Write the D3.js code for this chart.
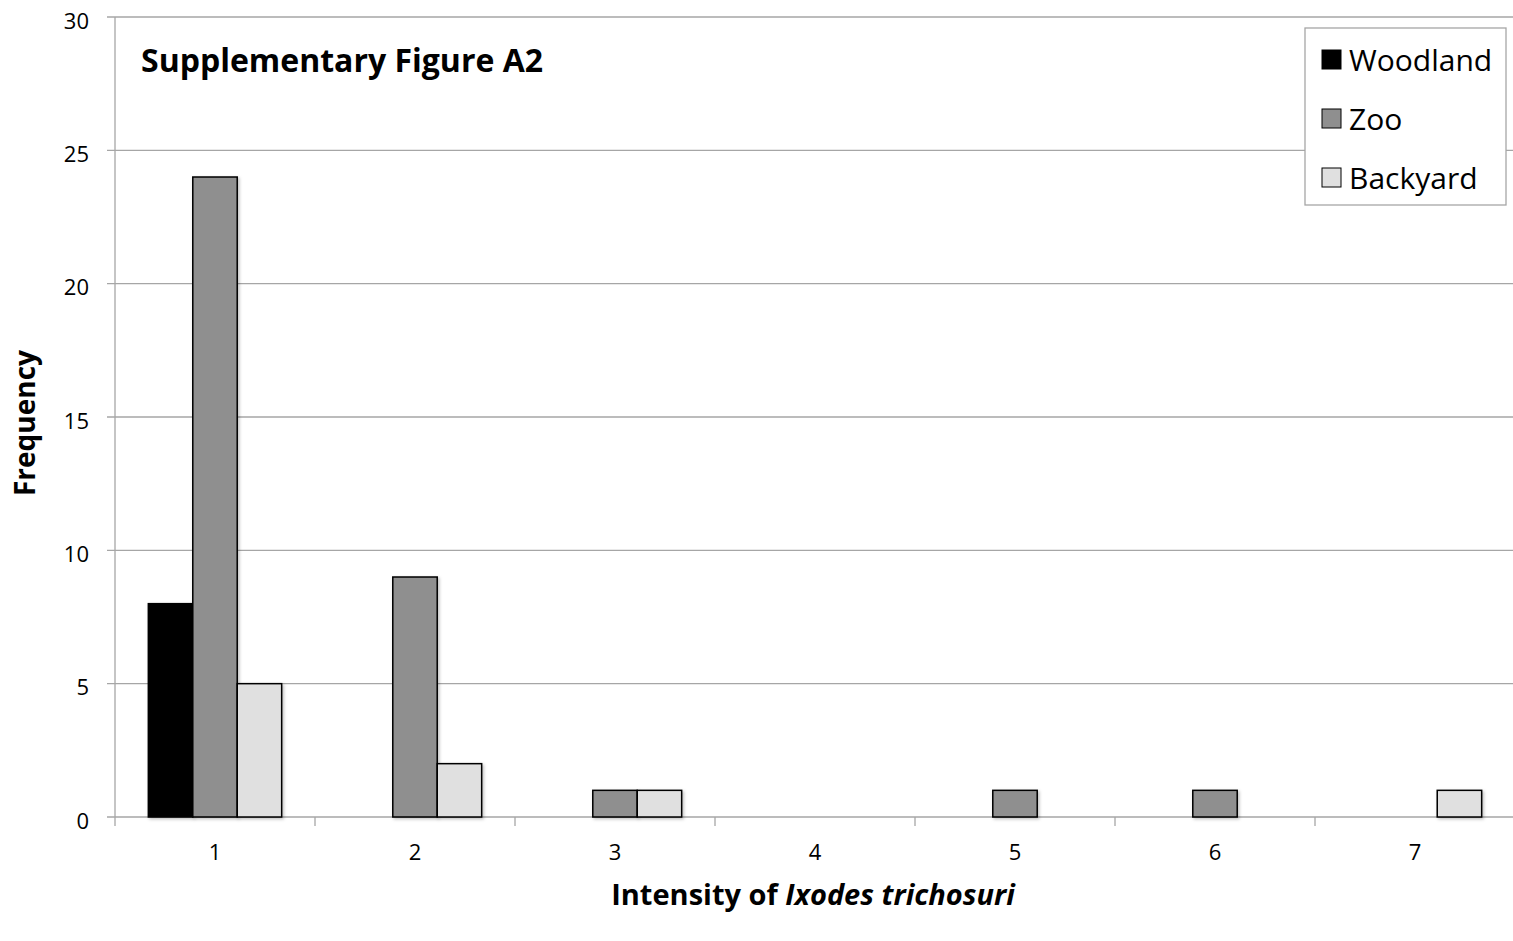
<!DOCTYPE html>
<html>
<head>
<meta charset="utf-8">
<script src="https://cdn.jsdelivr.net/npm/d3@7"></script>
<style>
  body { margin: 0; background: #fff; }
  text { font-family: "Open Sans", "Noto Sans", sans-serif; }
</style>
</head>
<body>
<svg id="chart"></svg>
<script>
const categories = ["1", "2", "3", "4", "5", "6", "7"];
const seriesNames = ["Woodland", "Zoo", "Backyard"];
const woodland = [8, 0, 0, 0, 0, 0, 0];
const zoo = [24, 9, 1, 0, 1, 1, 0];
const backyard = [5, 2, 1, 0, 0, 0, 1];
const yTicks = [0, 5, 10, 15, 20, 25, 30];

const colors = { Woodland: "#000000", Zoo: "#8f8f8f", Backyard: "#e0e0e0" };
const seriesData = { Woodland: woodland, Zoo: zoo, Backyard: backyard };

const W = 1513, H = 941;
const margin = { top: 17, right: 0, bottom: 124, left: 115 };
const width = 1400;
const height = H - margin.top - margin.bottom;

const svg = d3.select("#chart").attr("width", W).attr("height", H);

const defs = svg.append("defs");
const f = defs.append("filter").attr("id", "shadow").attr("x", "-20%").attr("y", "-20%").attr("width", "140%").attr("height", "140%");
f.append("feDropShadow").attr("dx", 1.5).attr("dy", 1.5).attr("stdDeviation", 1.5).attr("flood-color", "#000").attr("flood-opacity", 0.25);

const g = svg.append("g").attr("transform", `translate(${margin.left},${margin.top})`);

const x = d3.scaleBand().domain(categories).range([0, width]).paddingInner(0).paddingOuter(0);
// Excel-style gap width 150%: group of 3 bars centred in each band
const xSub = d3.scaleBand().domain(seriesNames).range([0, x.bandwidth()]).paddingInner(0).paddingOuter(0.75);
const y = d3.scaleLinear().domain([0, 30]).range([height, 0]);

// gridlines
g.append("g")
  .selectAll("line")
  .data(yTicks)
  .enter()
  .append("line")
  .attr("x1", -8)
  .attr("x2", W - margin.left)
  .attr("y1", d => y(d))
  .attr("y2", d => y(d))
  .attr("stroke", "#a6a6a6")
  .attr("stroke-width", 1.3);

// y axis line
g.append("line")
  .attr("x1", 0).attr("x2", 0)
  .attr("y1", 0).attr("y2", height)
  .attr("stroke", "#a6a6a6").attr("stroke-width", 1.3);

// y tick labels
g.append("g")
  .selectAll("text")
  .data(yTicks)
  .enter()
  .append("text")
  .attr("x", -26)
  .attr("y", d => y(d) + 4)
  .attr("dy", "0.35em")
  .attr("text-anchor", "end")
  .style("font-size", "22px")
  .text(d => d);

// x ticks
const xTickPos = categories.map(c => x(c)).concat([width]);
g.append("g")
  .selectAll("line")
  .data(xTickPos)
  .enter()
  .append("line")
  .attr("x1", d => d).attr("x2", d => d)
  .attr("y1", height).attr("y2", height + 9)
  .attr("stroke", "#a6a6a6").attr("stroke-width", 1.3);

g.append("g")
  .selectAll("text")
  .data(categories)
  .enter()
  .append("text")
  .attr("x", d => x(d) + x.bandwidth() / 2)
  .attr("y", 860 - margin.top)
  .attr("text-anchor", "middle")
  .style("font-size", "22px")
  .text(d => d);

// bars
seriesNames.forEach(name => {
  g.append("g")
    .selectAll("rect")
    .data(seriesData[name].map((v, i) => ({ cat: categories[i], v: v })).filter(d => d.v > 0))
    .enter()
    .append("rect")
    .attr("x", d => x(d.cat) + xSub(name))
    .attr("y", d => y(d.v))
    .attr("width", xSub.bandwidth())
    .attr("height", d => height - y(d.v))
    .attr("fill", colors[name])
    .attr("stroke", "#000")
    .attr("stroke-width", 1.5)
    .attr("filter", "url(#shadow)");
});

// title
svg.append("text")
  .attr("x", 141)
  .attr("y", 72)
  .style("font-size", "32px")
  .style("font-weight", "bold")
  .text("Supplementary Figure A2");

// axis titles
svg.append("text")
  .attr("x", 813)
  .attr("y", 905)
  .attr("text-anchor", "middle")
  .style("font-size", "29px")
  .style("font-weight", "bold")
  .call(t => {
    t.append("tspan").text("Intensity of ");
    t.append("tspan").style("font-style", "italic").text("Ixodes trichosuri");
  });

svg.append("text")
  .attr("transform", "translate(35,423) rotate(-90)")
  .attr("text-anchor", "middle")
  .style("font-size", "28px")
  .style("font-weight", "bold")
  .text("Frequency");

// legend
const legend = svg.append("g").attr("transform", "translate(1305,28)");
legend.append("rect")
  .attr("width", 201).attr("height", 177)
  .attr("fill", "#fff").attr("stroke", "#a6a6a6").attr("stroke-width", 1.3);
seriesNames.forEach((name, i) => {
  const row = legend.append("g").attr("transform", `translate(0,${32 + i * 59})`);
  row.append("rect")
    .attr("x", 17).attr("y", -10)
    .attr("width", 19).attr("height", 19)
    .attr("fill", colors[name])
    .attr("stroke", "#000").attr("stroke-width", 1);
  row.append("text")
    .attr("x", 44)
    .attr("y", 0)
    .attr("dy", "0.35em")
    .style("font-size", "30px")
    .text(name);
});
</script>
</body>
</html>
